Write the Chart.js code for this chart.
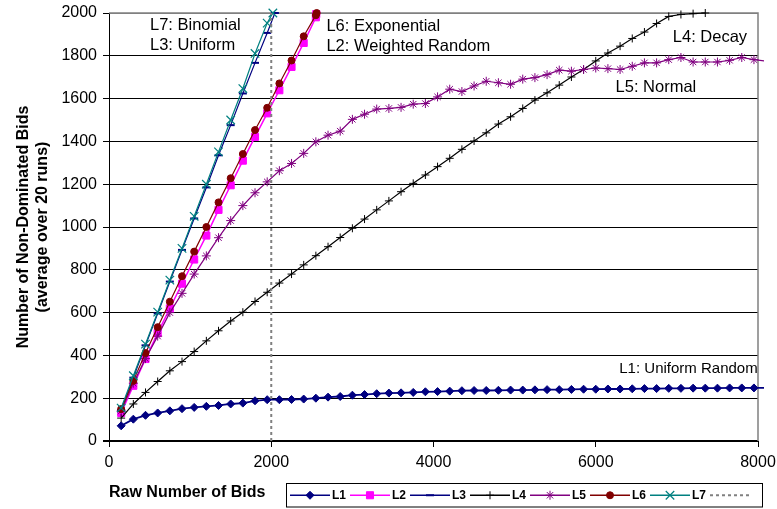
<!DOCTYPE html>
<html>
<head>
<meta charset="utf-8">
<script src="https://cdn.jsdelivr.net/npm/chart.js@4/dist/chart.umd.min.js"></script>
<style>
  html, body { margin: 0; padding: 0; background: #fff; }
  #wrap { width: 777px; height: 509px; }
</style>
</head>
<body>
<div id="wrap"><canvas id="c" width="777" height="509"></canvas></div>
<script>
// Raw bid counts at which the non-dominated set was sampled
const rawBids = [150, 300, 450, 600, 750, 900, 1050, 1200, 1350, 1500, 1650, 1800, 1950, 2100, 2250,
  2400, 2550, 2700, 2850, 3000, 3150, 3300, 3450, 3600, 3750, 3900, 4050, 4200, 4350, 4500, 4650,
  4800, 4950, 5100, 5250, 5400, 5550, 5700, 5850, 6000, 6150, 6300, 6450, 6600, 6750, 6900, 7050,
  7200, 7350, 7500, 7650, 7800, 7950, 8100];

// Non-dominated bids (average over 20 runs) for each bidding strategy
const l1UniformRandom = [71, 102, 120, 131, 141, 151, 157, 162, 166, 173, 177, 188, 193, 193, 194,
  196, 200, 205, 208, 214, 217, 221, 224, 225, 227, 230, 231, 233, 235, 236, 236, 237, 238, 238,
  239, 240, 240, 241, 242, 242, 243, 243, 244, 245, 245, 246, 246, 247, 247, 247, 248, 248, 248, 248];
const l2WeightedRandom = [131, 258, 383, 504, 620, 735, 848, 960, 1080, 1195, 1310, 1421, 1531,
  1639, 1748, 1860, 1980];
const l2Final = [2555, 1995];
const l3Uniform = [145, 296, 447, 596, 745, 893, 1040, 1185, 1335, 1476, 1624, 1767, 1907];
const l3Final = [2045, 2000];
const l4Decay = [107, 173, 227, 278, 328, 371, 418, 468, 515, 561, 602, 652, 695, 738, 780, 823,
  866, 908, 951, 994, 1037, 1080, 1122, 1165, 1204, 1243, 1282, 1321, 1363, 1402, 1440, 1481, 1515,
  1554, 1593, 1627, 1663, 1701, 1736, 1776, 1813, 1845, 1881, 1911, 1951, 1984, 1993, 1997, 2000];
const l5Normal = [140, 270, 385, 490, 600, 690, 780, 865, 950, 1030, 1100, 1160, 1211, 1263, 1297,
  1344, 1398, 1429, 1448, 1503, 1527, 1551, 1554, 1559, 1574, 1577, 1608, 1644, 1633, 1659, 1681,
  1674, 1667, 1691, 1698, 1712, 1733, 1728, 1736, 1743, 1740, 1736, 1751, 1767, 1767, 1782, 1792,
  1771, 1771, 1771, 1779, 1792, 1782, 1775];
const l6Exponential = [149, 281, 411, 532, 651, 770, 885, 1000, 1115, 1228, 1341, 1453, 1557, 1671,
  1778, 1891, 1990];
const l6Final = [2560, 2000];
const l7Binomial = [154, 305, 453, 602, 752, 900, 1050, 1200, 1351, 1500, 1647, 1811, 1953];
const l7Final = [2020, 2000];

// Vertical reference at 2000 raw bids
const guideX = [2000, 2000];
const guideY = [0, 2000];

// Axis ticks
const xTicks = [0, 2000, 4000, 6000, 8000];
const yTicks = [0, 200, 400, 600, 800, 1000, 1200, 1400, 1600, 1800, 2000];

const seriesNames = ['L1', 'L2', 'L3', 'L4', 'L5', 'L6', 'L7', ''];

const notes = [
  { text: 'L7: Binomial', x: 505, y: 1943, size: 16.5 },
  { text: 'L3: Uniform', x: 505, y: 1849, size: 16.5 },
  { text: 'L6: Exponential', x: 2680, y: 1938, size: 16.5 },
  { text: 'L2: Weighted Random', x: 2680, y: 1845, size: 16.5 },
  { text: 'L4: Decay', x: 6950, y: 1888, size: 16.5 },
  { text: 'L5: Normal', x: 6244, y: 1652, size: 16.5 },
  { text: 'L1: Uniform Random', x: 6290, y: 338, size: 15 }
];

const FONT = '"Liberation Sans", Arial, sans-serif';

function toPoints(values, final) {
  const pts = values.map((v, i) => ({ x: rawBids[i], y: v }));
  if (final) pts.push({ x: final[0], y: final[1] });
  return pts;
}

// markers are only shown inside the x range; the line itself runs a few px past the edge
const markerSize = r => (ctx => (ctx.raw && ctx.raw.x > 8000 ? 0 : r));

function line(label, data, color, style, radius, pw, order, width) {
  return {
    label, data, order,
    borderColor: color, backgroundColor: color,
    pointBorderColor: color, pointBackgroundColor: color,
    borderWidth: width || 1.2, pointStyle: style,
    pointRadius: markerSize(radius), pointBorderWidth: pw,
    pointHoverRadius: markerSize(radius),
    tension: 0, clip: { left: 10, top: 10, right: 6, bottom: 10 }
  };
}

const datasets = [
  line('L1', toPoints(l1UniformRandom), '#000080', 'rectRot', 4, 1, 7, 1.8),
  line('L2', toPoints(l2WeightedRandom, l2Final), '#FF00FF', 'rect', 5, 1, 6, 1.5),
  line('L3', toPoints(l3Uniform, l3Final), '#000080', 'line', 4, 2, 5),
  line('L4', toPoints(l4Decay), '#000000', 'cross', 4, 1, 4),
  line('L5', toPoints(l5Normal), '#800080', 'star', 4.5, 1, 3),
  line('L6', toPoints(l6Exponential, l6Final), '#800000', 'circle', 3.5, 1, 2),
  line('L7', toPoints(l7Binomial, l7Final), '#008080', 'crossRot', 6, 1.2, 1),
  {
    label: '', order: 0,
    data: guideX.map((x, i) => ({ x, y: guideY[i] })),
    borderColor: '#808080', borderWidth: 2, borderDash: [3, 3],
    pointRadius: 0, tension: 0, clip: false
  }
];

// text labels placed in data space
const notesPlugin = {
  id: 'notes',
  afterDatasetsDraw(chart) {
    const { ctx, scales } = chart;
    ctx.save();
    ctx.fillStyle = '#000';
    ctx.textAlign = 'left';
    ctx.textBaseline = 'middle';
    notes.forEach(n => {
      ctx.font = n.size + 'px ' + FONT;
      ctx.fillText(n.text, scales.x.getPixelForValue(n.x), scales.y.getPixelForValue(n.y));
    });
    ctx.restore();
  }
};

// grey frame on the top and right of the plot area
const framePlugin = {
  id: 'frame',
  beforeDatasetsDraw(chart) {
    const { ctx, chartArea: a } = chart;
    ctx.save();
    ctx.strokeStyle = '#808080';
    ctx.lineWidth = 1.5;
    ctx.beginPath();
    ctx.moveTo(a.left, a.top);
    ctx.lineTo(a.right, a.top);
    ctx.lineTo(a.right, a.bottom);
    ctx.stroke();
    ctx.restore();
  }
};

// boxed single-row legend under the plot
const boxLegend = {
  id: 'boxLegend',
  afterDraw(chart) {
    const ctx = chart.ctx;
    const box = { left: 286.5, top: 483.5, width: 476, height: 23.5 };
    const cy = box.top + box.height / 2;
    ctx.save();
    ctx.strokeStyle = '#000';
    ctx.lineWidth = 1;
    ctx.strokeRect(box.left, box.top, box.width, box.height);
    chart.data.datasets.forEach((ds, i) => {
      const x0 = 290 + i * 60;
      ctx.save();
      ctx.strokeStyle = ds.borderColor;
      ctx.lineWidth = ds.label ? 1.5 : 2;
      ctx.setLineDash(ds.borderDash || []);
      ctx.beginPath();
      ctx.moveTo(x0, cy);
      ctx.lineTo(x0 + 40, cy);
      ctx.stroke();
      ctx.setLineDash([]);
      if (ds.label) {
        ctx.fillStyle = ds.pointBackgroundColor;
        ctx.strokeStyle = ds.pointBorderColor;
        ctx.lineWidth = ds.pointBorderWidth;
        const r = typeof ds.pointRadius === 'function' ? ds.pointRadius({ raw: { x: 0 } }) : ds.pointRadius;
        Chart.helpers.drawPoint(ctx, { pointStyle: ds.pointStyle, radius: r, rotation: 0, borderWidth: ds.pointBorderWidth }, x0 + 20, cy);
        ctx.fillStyle = '#000';
        ctx.font = 'bold 12px ' + FONT;
        ctx.textAlign = 'left';
        ctx.textBaseline = 'middle';
        ctx.fillText(seriesNames[i], x0 + 42, cy);
      }
      ctx.restore();
    });
    ctx.restore();
  }
};

const plain = v => String(v);

new Chart(document.getElementById('c'), {
  type: 'line',
  data: { datasets },
  plugins: [framePlugin, notesPlugin, boxLegend],
  options: {
    responsive: false,
    animation: false,
    devicePixelRatio: 1,
    layout: { padding: { left: 0, top: 13, right: 19, bottom: 0 } },
    plugins: { legend: { display: false }, tooltip: { enabled: false } },
    scales: {
      x: {
        type: 'linear', min: 0, max: 8000,
        afterBuildTicks: s => { s.ticks = xTicks.map(v => ({ value: v })); },
        afterFit: s => { s.height = 68; s.paddingLeft = 0; s.paddingRight = 0; },
        ticks: { color: '#000', font: { family: FONT, size: 16 }, padding: 6, maxRotation: 0, callback: plain },
        grid: { drawOnChartArea: false, drawTicks: true, tickLength: 6, tickColor: '#000' },
        border: { color: '#000', width: 1 },
        title: {
          display: true, text: 'Raw Number of Bids', align: 'start', color: '#000',
          font: { family: FONT, size: 16, weight: 'bold' }, padding: { top: 0, bottom: 7 }
        }
      },
      y: {
        type: 'linear', min: 0, max: 2000,
        afterBuildTicks: s => { s.ticks = yTicks.map(v => ({ value: v })); },
        afterFit: s => { s.width = 109; s.paddingTop = 0; s.paddingBottom = 0; },
        ticks: { color: '#000', font: { family: FONT, size: 16 }, padding: 6, callback: plain },
        grid: {
          color: c => (c.tick && c.tick.value === 2000 ? '#808080' : '#000'),
          lineWidth: c => (c.tick && c.tick.value === 0 ? 2 : 1),
          tickLength: 6, tickColor: '#000'
        },
        border: { color: '#000', width: 1 },
        title: {
          display: true, text: ['Number of Non-Dominated Bids', '(average over 20 runs)'], color: '#000',
          font: { family: FONT, size: 16, weight: 'bold' }, padding: { top: 14, bottom: 0 }
        }
      }
    }
  }
});
</script>
</body>
</html>
